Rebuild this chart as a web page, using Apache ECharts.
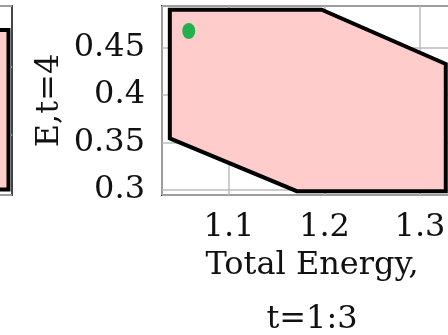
<!DOCTYPE html>
<html><head><meta charset="utf-8">
<script src="https://cdn.jsdelivr.net/npm/echarts@6/dist/echarts.min.js"></script>
<style>html,body{margin:0;padding:0;background:#fff}#c{width:448px;height:335px}</style>
</head><body><div id="c"></div>
<script>
// ---- data ----
const xTicks = [1.1, 1.2, 1.3];
const yTicks = [0.3, 0.35, 0.4, 0.45];
const regionX = [1.038, 1.197, 1.327, 1.327, 1.171, 1.038];
const regionY = [0.490, 0.490, 0.4328, 0.2988, 0.2988, 0.3545];
const pointX = [1.0578];
const pointY = [0.4676];
// neighbouring (cropped) panel on the left
const leftRegionX = [0.30, 0.9883, 0.9883, 0.30];
const leftRegionY = [0.4272, 0.4272, 0.3099, 0.3099];
const xAxisName = 'Total Energy,\nt=1:3';
const yAxisName = 'E,t=4';

const FONT = 'DejaVu Serif';
const chart = echarts.init(document.getElementById('c'), null, {renderer: 'canvas'});

function polyRenderer(xs, ys) {
  return function (params, api) {
    if (params.dataIndex !== 0) return null;
    const pts = xs.map((x, i) => api.coord([x, ys[i]]));
    return {
      type: 'polygon',
      shape: {points: pts},
      style: {fill: '#ffcccc', stroke: '#000', lineWidth: 4, lineJoin: 'miter'}
    };
  };
}
function fmt(ticks) {
  return function (v) {
    const r = Math.round(v * 1000) / 1000;
    return ticks.some(t => Math.abs(t - r) < 1e-6) ? String(r) : '';
  };
}

const gridBorder = {show: true, borderColor: '#444', borderWidth: 2, backgroundColor: 'transparent',
  containLabel: false, outerBoundsMode: 'none'};

chart.setOption({
  animation: false,
  grid: [
    Object.assign({left: 162, top: 6, width: 300, height: 189}, gridBorder),
    Object.assign({left: -288, top: 6, width: 300, height: 189}, gridBorder)
  ],
  xAxis: [{
    gridIndex: 0, type: 'value', min: 1.0298, max: 1.344, splitNumber: 3,
    axisLine: {show: false}, axisTick: {show: false},
    splitLine: {show: true, lineStyle: {color: '#bbbbbb', width: 1.5}},
    axisLabel: {show: true, fontFamily: FONT, fontSize: 32, color: '#111', margin: 17,
      showMinLabel: false, showMaxLabel: false, formatter: fmt(xTicks)},
    name: xAxisName, nameLocation: 'middle', nameGap: 44, nameMoveOverlap: false,
    nameTextStyle: {fontFamily: FONT, fontSize: 32, color: '#111', lineHeight: 54}
  }, {
    gridIndex: 1, type: 'value', min: 0, max: 1,
    axisLine: {show: false}, axisTick: {show: false}, axisLabel: {show: false},
    splitLine: {show: false}
  }],
  yAxis: [{
    gridIndex: 0, type: 'value', min: 0.29473, max: 0.49395, splitNumber: 4,
    axisLine: {show: false}, axisTick: {show: false},
    splitLine: {show: true, lineStyle: {color: '#bbbbbb', width: 1.5}},
    axisLabel: {show: true, fontFamily: FONT, fontSize: 32, color: '#111', margin: 17,
      padding: [7, 0, 0, 0],
      showMinLabel: false, showMaxLabel: false, formatter: fmt(yTicks)},
    name: yAxisName, nameLocation: 'middle', nameGap: 96, nameRotate: 90, nameMoveOverlap: false,
    nameTextStyle: {fontFamily: FONT, fontSize: 32, color: '#111'}
  }, {
    gridIndex: 1, type: 'value', min: 0.3059, max: 0.4449, splitNumber: 3,
    axisLine: {show: false}, axisTick: {show: false}, axisLabel: {show: false},
    splitLine: {show: true, lineStyle: {color: '#bbbbbb', width: 1.5}}
  }],
  series: [{
    type: 'custom', xAxisIndex: 0, yAxisIndex: 0, clip: true,
    renderItem: polyRenderer(regionX, regionY),
    data: regionX.map((x, i) => [x, regionY[i]]), z: 2
  }, {
    type: 'custom', xAxisIndex: 1, yAxisIndex: 1, clip: true,
    renderItem: polyRenderer(leftRegionX, leftRegionY),
    data: leftRegionX.map((x, i) => [x, leftRegionY[i]]), z: 2
  }, {
    type: 'scatter', xAxisIndex: 0, yAxisIndex: 0,
    symbol: 'circle', symbolSize: [13, 16],
    itemStyle: {color: '#22b14c', opacity: 1},
    data: pointX.map((x, i) => [x, pointY[i]]), z: 3
  }]
});
</script>
</body></html>
